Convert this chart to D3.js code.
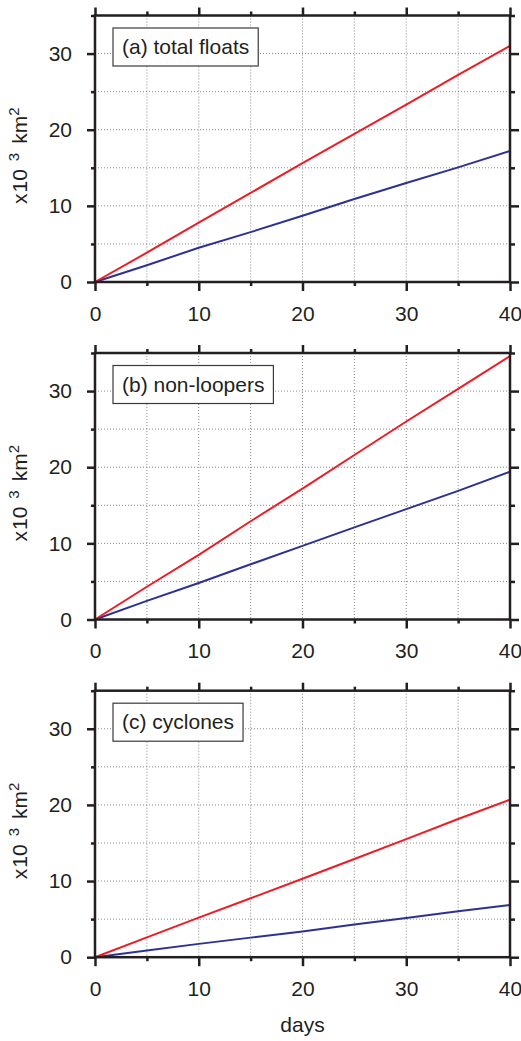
<!DOCTYPE html>
<html>
<head>
<meta charset="utf-8">
<script src="https://cdn.jsdelivr.net/npm/d3@7"></script>
<style>
  html, body { margin: 0; padding: 0; background: #fff; }
  svg { display: block; font-family: "Liberation Sans", Arial, sans-serif; }
</style>
</head>
<body>
<svg id="chart" width="521" height="1041"></svg>
<script>
// values, every 5 days
const days = [0, 5, 10, 15, 20, 25, 30, 35, 40];
const totalRed  = [0, 3.85, 7.8, 11.7, 15.6, 19.45, 23.3, 27.2, 31.0];
const totalBlue = [0, 2.2, 4.5, 6.55, 8.7, 10.9, 13.0, 15.05, 17.2];
const nonRed    = [0, 4.3, 8.5, 12.9, 17.2, 21.6, 26.0, 30.3, 34.6];
const nonBlue   = [0, 2.45, 4.8, 7.25, 9.67, 12.1, 14.5, 16.9, 19.4];
const cycRed    = [0, 2.6, 5.2, 7.74, 10.3, 12.9, 15.5, 18.15, 20.7];
const cycBlue   = [0, 0.87, 1.75, 2.57, 3.38, 4.28, 5.16, 6.05, 6.87];

const panelTitles = ["(a) total floats", "(b) non-loopers", "(c) cyclones"];
const majorTicks = [0, 10, 20, 30, 40];
const minorTicks = [5, 15, 25, 35];
const yMajor = [0, 10, 20, 30];
const yMinor = [5, 15, 25, 35];

const panels = [
  { title: panelTitles[0], red: totalRed, blue: totalBlue },
  { title: panelTitles[1], red: nonRed, blue: nonBlue },
  { title: panelTitles[2], red: cycRed, blue: cycBlue }
];

const svg = d3.select("#chart");
const ink = "#231f20";
const tops = [15.5, 353, 690.7];
const h = 266.5;
const left = 95, right = 510;

const x = d3.scaleLinear().domain([0, 40]).range([left, right]);

panels.forEach((p, i) => {
  const top = tops[i];
  const g = svg.append("g");
  const y = d3.scaleLinear().domain([0, 35]).range([top + h, top]);

  // dotted grid
  g.selectAll(".gx").data(d3.range(5, 40, 5)).join("line")
    .attr("x1", d => x(d)).attr("x2", d => x(d))
    .attr("y1", top).attr("y2", top + h)
    .attr("stroke", "#8a8a8a").attr("stroke-width", 1)
    .attr("stroke-dasharray", "1,2");
  g.selectAll(".gy").data(d3.range(5, 35, 5)).join("line")
    .attr("x1", left).attr("x2", right)
    .attr("y1", d => y(d)).attr("y2", d => y(d))
    .attr("stroke", "#8a8a8a").attr("stroke-width", 1)
    .attr("stroke-dasharray", "1,2");

  // data lines
  const line = d3.line().x((d, j) => x(days[j])).y(d => y(d));
  g.append("path").datum(p.blue).attr("d", line)
    .attr("fill", "none").attr("stroke", "#2e3192").attr("stroke-width", 2);
  g.append("path").datum(p.red).attr("d", line)
    .attr("fill", "none").attr("stroke", "#ed1c24").attr("stroke-width", 2);

  // axes: major + minor ticks on all four sides
  const axisStyle = sel => {
    sel.select(".domain").remove();
    sel.selectAll("line").attr("stroke", ink).attr("stroke-width", 2.5);
    sel.selectAll("text").attr("fill", ink).attr("font-size", 21)
      .attr("font-family", "Liberation Sans, Arial, sans-serif");
  };
  g.append("g").attr("transform", `translate(0,${top + h})`)
    .call(d3.axisBottom(x).tickValues(majorTicks).tickSize(9).tickPadding(15).tickFormat(d3.format("d")))
    .call(axisStyle);
  g.append("g").attr("transform", `translate(0,${top + h})`)
    .call(d3.axisBottom(x).tickValues(minorTicks).tickSize(4).tickFormat(""))
    .call(axisStyle);
  g.append("g").attr("transform", `translate(0,${top})`)
    .call(d3.axisTop(x).tickValues(majorTicks).tickSize(8).tickFormat(""))
    .call(axisStyle);
  g.append("g").attr("transform", `translate(0,${top})`)
    .call(d3.axisTop(x).tickValues(minorTicks).tickSize(4).tickFormat(""))
    .call(axisStyle);
  g.append("g").attr("transform", `translate(${left},0)`)
    .call(d3.axisLeft(y).tickValues(yMajor).tickSize(8).tickPadding(15).tickFormat(d3.format("d")))
    .call(axisStyle);
  g.append("g").attr("transform", `translate(${left},0)`)
    .call(d3.axisLeft(y).tickValues(yMinor).tickSize(4).tickFormat(""))
    .call(axisStyle);
  g.append("g").attr("transform", `translate(${right},0)`)
    .call(d3.axisRight(y).tickValues(yMajor).tickSize(9).tickFormat(""))
    .call(axisStyle);
  g.append("g").attr("transform", `translate(${right},0)`)
    .call(d3.axisRight(y).tickValues(yMinor).tickSize(5).tickFormat(""))
    .call(axisStyle);

  // frame
  g.append("rect").attr("x", left).attr("y", top)
    .attr("width", right - left).attr("height", h)
    .attr("fill", "none").attr("stroke", ink).attr("stroke-width", 2.5);

  // y label
  const ly = top + h / 2 + 7;
  const lab = g.append("text")
    .attr("transform", `translate(27,${ly}) rotate(-90)`)
    .attr("text-anchor", "middle").attr("font-size", 21).attr("fill", ink);
  lab.append("tspan").text("x");
  lab.append("tspan").attr("dx", 1).text("10");
  lab.append("tspan").attr("dx", 8).attr("dy", -8).attr("font-size", 15).text("3");
  lab.append("tspan").attr("dx", 9).attr("dy", 8).text("km");
  lab.append("tspan").attr("dy", -8).attr("font-size", 15).text("2");

  // title box
  const bx = 113, by = top + 12.5;
  const box = g.append("rect").attr("x", bx).attr("y", by).attr("height", 38)
    .attr("fill", "#fff").attr("stroke", "#3a3a3a").attr("stroke-width", 1.2);
  const t = g.append("text").attr("x", bx + 9).attr("y", by + 26)
    .attr("font-size", 21).attr("fill", ink).text(p.title);
  box.attr("width", t.node().getComputedTextLength() + 18);
});

svg.append("text").attr("x", (left + right) / 2).attr("y", 1032)
  .attr("text-anchor", "middle").attr("font-size", 21).attr("fill", ink)
  .text("days");
</script>
</body>
</html>
